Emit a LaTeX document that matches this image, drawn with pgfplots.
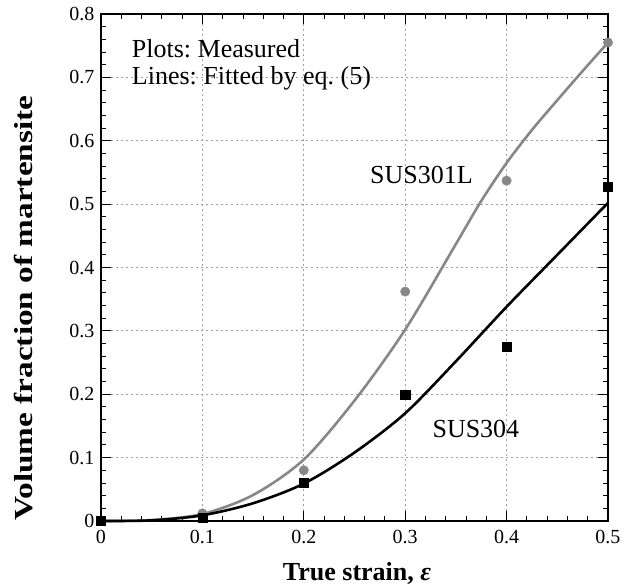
\documentclass[border=0pt]{standalone}
\usepackage{fontspec}
\setmainfont{Liberation Serif}
\usepackage{graphicx}
\usepackage{pgfplots}
\pgfplotsset{compat=1.18}
\frenchspacing

\definecolor{susgray}{gray}{0.53}

\begin{document}
\begin{tikzpicture}
\begin{axis}[
  scale only axis, width=507pt, height=507pt,
  xmin=0, xmax=0.5, ymin=0, ymax=0.8,
  xtick={0,0.1,0.2,0.3,0.4,0.5},
  xticklabels={0,0.1,0.2,0.3,0.4,0.5},
  ytick={0,0.1,0.2,0.3,0.4,0.5,0.6,0.7,0.8},
  yticklabels={0,0.1,0.2,0.3,0.4,0.5,0.6,0.7,0.8},
  minor x tick num=4, minor y tick num=4,
  tick align=inside,
  major tick length=10pt, minor tick length=5pt,
  every tick/.style={black, line width=0.9pt},
  axis line style={line width=2.4pt},
  grid=major,
  major grid style={gray!75, line width=0.8pt, dash pattern=on 2pt off 3pt},
  ticklabel style={font=\rmfamily\fontsize{20}{24}\selectfont},
  xticklabel style={yshift=-6pt},
  yticklabel style={xshift=-3pt},
  label style={font=\fontsize{26}{31}\selectfont\bfseries},
  xlabel={True strain, \textit{ε}},
  xlabel style={at={(axis description cs:0.505,-0.1164)}, anchor=base},
  ylabel={\scalebox{1.28}[1]{Volume fraction of martensite}},
  ylabel style={at={(axis description cs:-0.152,0.42)}, anchor=center},
  clip=false,
]
% fitted curves, eq. (5)
\addplot[susgray, line width=2.6pt, smooth] coordinates {
  (0,0) (0.05,0.0015) (0.1,0.011) (0.15,0.041) (0.2,0.097) (0.25,0.19)
  (0.3,0.302) (0.35,0.437) (0.375,0.505) (0.4,0.565) (0.425,0.617)
  (0.45,0.664) (0.475,0.71) (0.5,0.755)};
\addplot[black, line width=2.6pt, smooth] coordinates {
  (0,0) (0.05,0.001) (0.1,0.009) (0.15,0.028) (0.2,0.059) (0.25,0.108)
  (0.3,0.170) (0.35,0.252) (0.4,0.338) (0.45,0.42) (0.5,0.502)};
% measured values
\addplot[only marks, mark=*, mark size=4.7pt, draw=susgray, fill=susgray] coordinates {
  (0,0) (0.1,0.012) (0.2,0.08) (0.3,0.362) (0.4,0.537) (0.5,0.755)};
\addplot[only marks, mark=square*, mark size=4.6pt, black] coordinates {
  (0,0) (0.1,0.005) (0.2,0.06) (0.3,0.199) (0.4,0.275) (0.5,0.527)};
% annotations
\node[anchor=base west, font=\fontsize{26}{31}\selectfont] at (axis cs:0.027,0.732) {Plots: Measured};
\node[anchor=base west, font=\fontsize{26}{31}\selectfont] at (axis cs:0.027,0.688) {Lines: Fitted by eq. (5)};
\node[anchor=base west, font=\fontsize{26}{31}\selectfont] at (axis cs:0.262,0.533) {SUS301L};
\node[anchor=base west, font=\fontsize{26}{31}\selectfont] at (axis cs:0.3235,0.131) {SUS304};
\end{axis}
\pgfresetboundingbox
\path[use as bounding box] (-101pt,-67pt) rectangle (532pt,521pt);
\end{tikzpicture}
\end{document}
